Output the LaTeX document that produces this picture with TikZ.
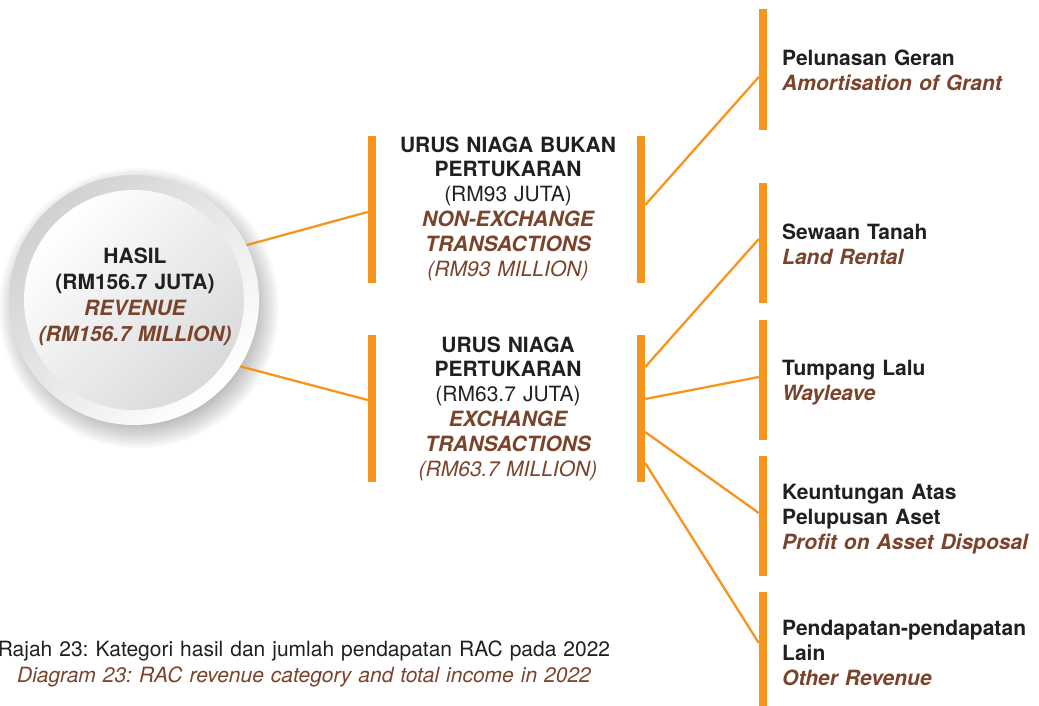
\documentclass[tikz,border=0pt]{standalone}
\usepackage{fontspec}
\setmainfont{TeX Gyre Heros}
\frenchspacing
\definecolor{orng}{HTML}{F7941E}
\definecolor{brn}{HTML}{7A432B}
\definecolor{ink}{HTML}{231F20}
\definecolor{ringgrey}{HTML}{D0D1D3}
\definecolor{discgrey}{HTML}{D9DADC}
\newcommand\tB[1]{{\bfseries\color{ink}#1}}
\newcommand\tR[1]{{\color{ink}#1}}
\newcommand\tBI[1]{{\bfseries\itshape\color{brn}#1}}
\newcommand\tI[1]{{\itshape\color{brn}#1}}
\tikzset{
  vbar/.style={fill=orng, draw=none, rectangle, minimum width=8pt, inner sep=0pt},
  conn/.style={draw=orng, line width=2.3pt},
  midtext/.style={text width=300pt, align=center, inner sep=0pt, anchor=base, font=\fontsize{21}{24.8}\selectfont},
  sidetext/.style={text width=300pt, align=left, inner sep=0pt, anchor=base west, font=\fontsize{21}{25}\selectfont},
}
\begin{document}
\begin{tikzpicture}[x=1pt,y=-1pt]
\useasboundingbox (0,0) rectangle (1039,705);

% shadow of the circle
\foreach \k in {0,...,14}{
  \fill[black, opacity=0.025] (139,308) circle[radius=112+2*\k];
}
% circle
\node[circle, minimum size=250pt, inner sep=0pt, shading=axis, top color=ringgrey, bottom color=white, shading angle=45] (hasil) at (134,300) {};
\node[circle, minimum size=220pt, inner sep=0pt, shading=axis, top color=white, bottom color=discgrey, shading angle=45] (hasildisc) at (hasil.center) {};
\node[text width=240pt, align=center, inner sep=0pt, anchor=base, font=\fontsize{21}{26.3}\selectfont] (hasiltxt) at (135,263)
  {\tB{HASIL}\\\tB{(RM156.7 JUTA)}\\\tBI{REVENUE}\\\tBI{(RM156.7 MILLION)}};

% middle bars
\node[vbar, minimum height=147pt] (nbL) at (372,209.5) {};
\node[vbar, minimum height=147pt] (nbR) at (641,209.5) {};
\node[vbar, minimum height=147pt] (exL) at (372,408.5) {};
\node[vbar, minimum height=147pt] (exR) at (641,408.5) {};

\node[midtext] (nbtxt) at (508,152)
  {\tB{URUS NIAGA BUKAN}\\\tB{PERTUKARAN}\\\tR{(RM93 JUTA)}\\\tBI{NON-EXCHANGE}\\\tBI{TRANSACTIONS}\\\tI{(RM93 MILLION)}};
\node[midtext] (extxt) at (508,352)
  {\tB{URUS NIAGA}\\\tB{PERTUKARAN}\\\tR{(RM63.7 JUTA)}\\\tBI{EXCHANGE}\\\tBI{TRANSACTIONS}\\\tI{(RM63.7 MILLION)}};

% right bars
\node[vbar, minimum height=121pt] (r1) at (763,69.5) {};
\node[vbar, minimum height=120pt] (r2) at (763,243) {};
\node[vbar, minimum height=120pt] (r3) at (763,380) {};
\node[vbar, minimum height=120pt] (r4) at (763,516) {};
\node[vbar, minimum height=120pt] (r5) at (763,652) {};

\node[sidetext] (t1) at (782,65) {\tB{Pelunasan Geran}\\\tBI{Amortisation of Grant}};
\node[sidetext] (t2) at (782,239) {\tB{Sewaan Tanah}\\\tBI{Land Rental}};
\node[sidetext] (t3) at (782,375) {\tB{Tumpang Lalu}\\\tBI{Wayleave}};
\node[sidetext] (t4) at (782,499) {\tB{Keuntungan Atas}\\\tB{Pelupusan Aset}\\\tBI{Profit on Asset Disposal}};
\node[sidetext] (t5) at (782,635) {\tB{Pendapatan-pendapatan}\\\tB{Lain}\\\tBI{Other Revenue}};

% connectors
\draw[conn] (hasil.26.4) -- (nbL.west |- {(0,212)});
\draw[conn] (hasil.-32.3) -- (exL.west |- {(0,400)});
\draw[conn] (nbR.east |- {(0,205)}) -- (r1.west |- {(0,77)});
\draw[conn] (exR.east |- {(0,367)}) -- (r2.west |- {(0,239)});
\draw[conn] (exR.east |- {(0,399)}) -- (r3.west |- {(0,377)});
\draw[conn] (exR.east |- {(0,432)}) -- (r4.west |- {(0,513)});
\draw[conn] (exR.east |- {(0,463)}) -- (r5.west |- {(0,643)});

% caption
\node[text width=700pt, align=center, inner sep=0pt, anchor=base, font=\fontsize{21}{26}\selectfont] (caption) at (304,656)
  {\tR{Rajah 23: Kategori hasil dan jumlah pendapatan RAC pada 2022}\\\tI{Diagram 23: RAC revenue category and total income in 2022}};
\end{tikzpicture}
\end{document}
